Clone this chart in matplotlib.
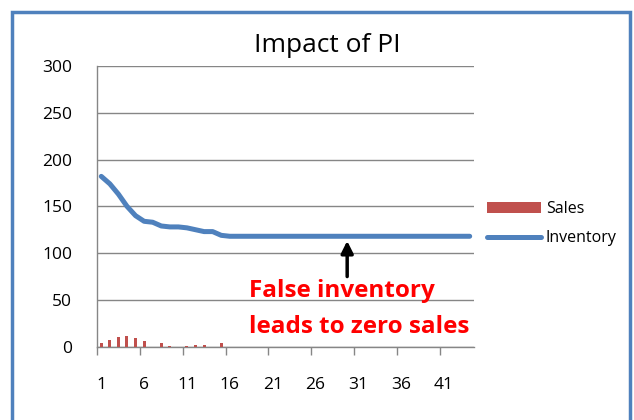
import matplotlib.pyplot as plt
import numpy as np
from matplotlib.patches import Rectangle

# data
periods = np.arange(1, 45)
inventory = [182, 174, 163, 150, 140, 134, 133, 129, 128, 128,
             127, 125, 123, 123, 119] + [118] * 29
sales = [4, 7.5, 10, 11, 9, 6, 0, 3.5, 1, 0,
         1, 1.5, 1.5, 0, 3.5] + [0] * 29
xtick_labels = [str(i) for i in range(1, 42, 5)]

plt.rcParams['font.family'] = ['Open Sans', 'DejaVu Sans']

fig = plt.figure(figsize=(6.34, 4.2), dpi=100)
ax = fig.add_axes([0.153, 0.1745, 0.5946, 0.6685])

# blue chart-area frame
fig.patches.append(Rectangle((12 / 634, -0.05), 618 / 634, 1.05 - 12 / 420,
                             transform=fig.transFigure, fill=False,
                             edgecolor='#4F81BD', linewidth=2.5))

bars = ax.bar(periods, sales, width=0.35, color='#C0504D', label='Sales', zorder=3)
line, = ax.plot(periods, inventory, color='#4F81BD', linewidth=3.6,
                solid_capstyle='round', label='Inventory', zorder=4)

ax.set_xlim(0.5, 44.5)
ax.set_ylim(0, 300)
ax.set_yticks(range(0, 301, 50))
ax.yaxis.grid(True, color='#868686', linewidth=1)
ax.set_axisbelow(True)

ax.set_xticks(range(1, 42, 5))
ax.set_xticklabels(xtick_labels)
ax.set_xticks(np.arange(0.5, 41, 5), minor=True)
ax.tick_params(axis='x', which='major', length=0, pad=22, labelsize=12.5)
ax.tick_params(axis='x', which='minor', length=6, color='#868686', width=1)
ax.tick_params(axis='y', length=0, pad=18, labelsize=12.5)

for s in ['top', 'right']:
    ax.spines[s].set_visible(False)
for s in ['left', 'bottom']:
    ax.spines[s].set_color('#868686')
    ax.spines[s].set_linewidth(1)

fig.text(327 / 634, 1 - 45 / 420, 'Impact of PI', ha='center', va='center',
         fontsize=19)

ax.annotate('', xy=(29.7, 116), xytext=(29.7, 72),
            arrowprops=dict(arrowstyle='-|>', color='black', lw=2.5,
                            mutation_scale=18))
ax.text(18.2, 59, 'False inventory', color='red', fontsize=17.5,
        fontweight='bold', ha='left', va='center')
ax.text(18.2, 21, 'leads to zero sales', color='red', fontsize=17.5,
        fontweight='bold', ha='left', va='center')

ax.legend([bars, line], ['Sales', 'Inventory'], loc='center left',
          bbox_to_anchor=(1.034, 0.438), frameon=False, borderpad=0,
          borderaxespad=0, fontsize=11.5, handlelength=3.4,
          handletextpad=0.3, labelspacing=0.8)

fig.savefig('out.png', dpi=100)
